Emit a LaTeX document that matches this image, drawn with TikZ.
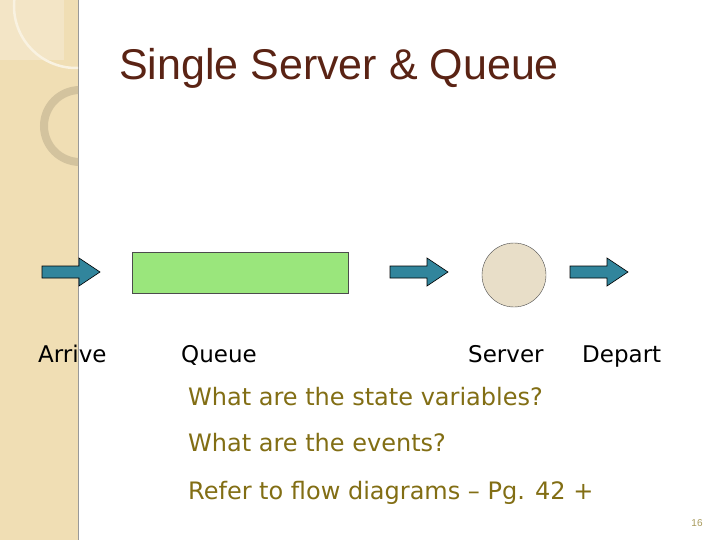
\documentclass[tikz,border=0pt]{standalone}
\usepackage{fontspec}
\setmainfont{Liberation Sans}
\newfontfamily\bodyf{DejaVu Sans}
\begin{document}
\begin{tikzpicture}[x=1pt,y=-1pt,
  lbl/.style={anchor=base west, inner sep=0pt, font=\bodyf\fontsize{23}{26}\selectfont},
  qst/.style={anchor=base west, inner sep=0pt, text=qc, font=\bodyf\fontsize{24}{28}\selectfont}]
\definecolor{strip}{RGB}{240,222,180}
\definecolor{arrc}{RGB}{49,133,156}
\definecolor{titlec}{RGB}{90,35,20}
\definecolor{qc}{RGB}{130,110,20}
\definecolor{qfill}{RGB}{154,230,124}
\definecolor{sfill}{RGB}{232,222,200}
\useasboundingbox (0,0) rectangle (720,540);
\fill[white] (0,0) rectangle (720,540);
\fill[strip] (0,0) rectangle (78,540);
\draw[black!40, line width=1pt] (78,0) -- (78,540);
\begin{scope}
\clip (0,0) rectangle (78,540);
\fill[white!40!strip, opacity=0.6] (0,0) rectangle (64,60);
\draw[black!12!strip, line width=8pt] (80,126) circle (36);
\draw[white!60!strip, line width=2.5pt] (76,6) circle (62);
\end{scope}
\node[inner sep=0pt, text=titlec, font=\fontsize{43}{48}\selectfont] (t) at (339,68) {Single Server \& Queue};
\foreach \x in {42,390,570}{
  \draw[fill=arrc, draw=black, line width=0.6pt] (\x,266) -- (\x+37,266) -- (\x+37,258) -- (\x+58,272) -- (\x+37,286) -- (\x+37,278) -- (\x,278) -- cycle;
}
\node[draw=black!70, fill=qfill, minimum width=216pt, minimum height=41pt, inner sep=0pt] (queue) at (240,273) {};
\node[draw=black!70, fill=sfill, circle, minimum size=64pt, inner sep=0pt] (server) at (514,275) {};
\node[lbl] (l1) at (38,362) {Arrive};
\node[lbl] (l2) at (181,362) {Queue};
\node[lbl] (l3) at (468,362) {Server};
\node[lbl] (l4) at (582,362) {Depart};
\node[qst] (q1) at (188,405) {What are the state variables?};
\node[qst] (q2) at (188,451) {What are the events?};
\node[qst] (q3) at (188,499) {Refer to flow diagrams – Pg. 42 +};
\node[inner sep=0pt, text=qc!70, font=\fontsize{10}{11}\selectfont] (pg) at (697,523) {16};
\end{tikzpicture}
\end{document}
